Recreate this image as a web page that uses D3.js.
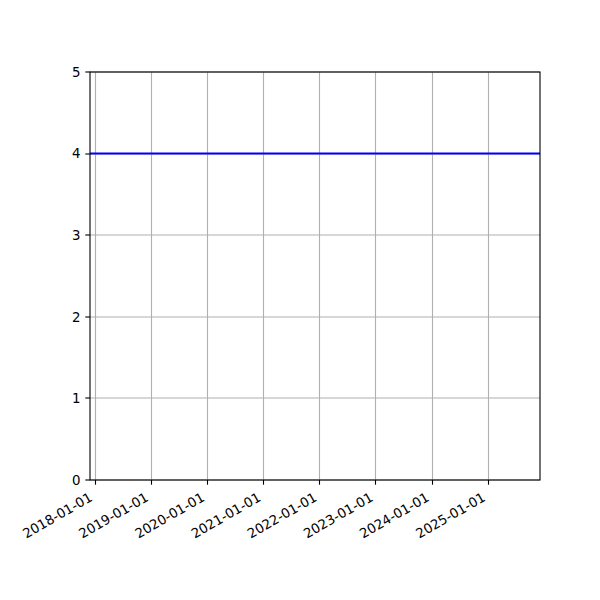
<!DOCTYPE html>
<html><head><meta charset="utf-8">
<script src="https://cdn.jsdelivr.net/npm/d3@7"></script>
<style>body{margin:0;background:#fff}svg{display:block}text{font-family:"DejaVu Sans",sans-serif;font-size:13.33px;fill:#000}</style>
</head><body>
<script>
const dates = ["2017-12-01", "2018-06-01", "2019-06-01", "2020-06-01", "2021-06-01", "2022-06-01", "2023-06-01", "2024-06-01", "2025-06-01", "2025-12-06"];
const values = [4, 4, 4, 4, 4, 4, 4, 4, 4, 4];
const xDomain = ["2017-12-01", "2025-12-06"];
const yTicks = [0, 1, 2, 3, 4, 5];
const xTickLabels = ["2018-01-01","2019-01-01","2020-01-01","2021-01-01","2022-01-01","2023-01-01","2024-01-01","2025-01-01"];

const parse = d3.utcParse("%Y-%m-%d");
const W = 600, H = 600, L = 90, R = 540, T = 72, B = 480;
const svg = d3.select("body").append("svg").attr("width", W).attr("height", H);
svg.append("rect").attr("width", W).attr("height", H).attr("fill", "#fff");

const x = d3.scaleUtc().domain(xDomain.map(parse)).range([L, R]);
const y = d3.scaleLinear().domain([0, 5]).range([B, T]);
const xt = xTickLabels.map(parse);

// grid
const g = svg.append("g");
g.selectAll(".vg").data(xt).join("line")
  .attr("x1", d => Math.round(x(d)) + 0.5).attr("x2", d => Math.round(x(d)) + 0.5)
  .attr("y1", T).attr("y2", B).attr("stroke", "#b0b0b0").attr("stroke-width", 1.1);
g.selectAll(".hg").data(yTicks).join("line")
  .attr("y1", d => Math.round(y(d))).attr("y2", d => Math.round(y(d)))
  .attr("x1", L).attr("x2", R).attr("stroke", "#b0b0b0").attr("stroke-width", 1.1);

// line
const line = d3.line().x((d, i) => x(parse(dates[i]))).y(d => y(d));
svg.append("path").datum(values).attr("d", line)
  .attr("fill", "none").attr("stroke", "#0000ff").attr("stroke-width", 2);

// frame
svg.append("rect").attr("x", L).attr("y", T).attr("width", R - L).attr("height", B - T)
  .attr("fill", "none").attr("stroke", "#000").attr("stroke-width", 1.1);

// y axis ticks
const ya = svg.append("g");
ya.selectAll("line").data(yTicks).join("line")
  .attr("x1", L - 4.7).attr("x2", L).attr("y1", d => Math.round(y(d))).attr("y2", d => Math.round(y(d)))
  .attr("stroke", "#000").attr("stroke-width", 1.1);
ya.selectAll("text").data(yTicks).join("text")
  .attr("x", L - 9.4).attr("y", d => y(d)).attr("dy", "0.36em")
  .attr("text-anchor", "end").text(d => d);

// x axis ticks
const xa = svg.append("g");
xa.selectAll("line").data(xt).join("line")
  .attr("x1", d => Math.round(x(d)) + 0.5).attr("x2", d => Math.round(x(d)) + 0.5)
  .attr("y1", B).attr("y2", B + 4.7).attr("stroke", "#000").attr("stroke-width", 1.1);
xa.selectAll("text").data(xt).join("text")
  .attr("text-anchor", "end")
  .attr("transform", d => `translate(${x(d) - 1.5},${B + 20}) rotate(-30)`)
  .text((d, i) => xTickLabels[i]);
</script>
</body></html>
